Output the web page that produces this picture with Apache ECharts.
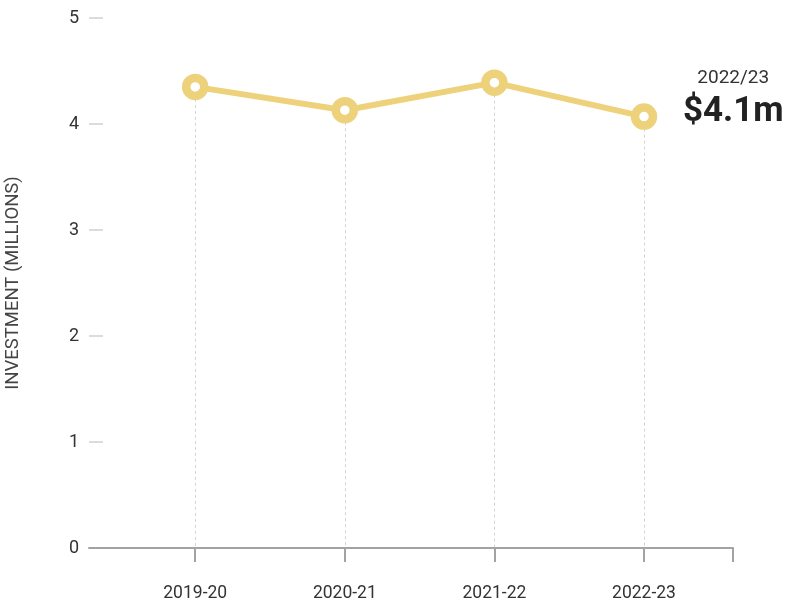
<!DOCTYPE html>
<html>
<head>
<meta charset="utf-8">
<script src="https://cdn.jsdelivr.net/npm/echarts@6/dist/echarts.min.js"></script>
<style>
  html, body { margin: 0; padding: 0; background: #fff; }
  #chart { width: 787px; height: 607px; }
</style>
</head>
<body>
<div id="chart"></div>
<script>
// Annual investment, in millions of dollars
const years = ['2019-20', '2020-21', '2021-22', '2022-23'];
const investment = [4.35, 4.13, 4.39, 4.07];
const yTicks = [0, 1, 2, 3, 4, 5];
const highlightYear = '2022/23';

const FONT = 'Roboto, "Noto Sans", sans-serif';
const GOLD = '#EDD27B';
const lastIdx = investment.length - 1;

const points = investment.map((v, i) => [i, v]);

const chart = echarts.init(document.getElementById('chart'), null, { renderer: 'canvas' });

chart.setOption({
  animation: false,
  grid: { left: 89, right: 54, top: 18, bottom: 59, containLabel: false, outerBoundsMode: 'none' },
  xAxis: {
    type: 'value',
    z: 5,
    min: -0.71,
    max: 3.595,
    axisLine: { show: true, onZero: false, lineStyle: { color: '#a3a3a3', width: 2 } },
    axisTick: {
      show: true,
      length: 14,
      customValues: years.map((_, i) => i).concat([3.595]),
      lineStyle: { color: '#a3a3a3', width: 2 }
    },
    axisLabel: {
      customValues: years.map((_, i) => i),
      formatter: v => years[Math.round(v)] || '',
      margin: 37,
      fontFamily: FONT,
      fontSize: 17.5,
      color: '#333'
    },
    splitLine: { show: false }
  },
  yAxis: {
    type: 'value',
    z: 1,
    min: yTicks[0],
    max: yTicks[yTicks.length - 1],
    interval: 1,
    name: 'INVESTMENT (MILLIONS)',
    nameLocation: 'middle',
    nameGap: 66,
    nameTextStyle: { fontFamily: FONT, fontSize: 18.5, color: '#444' },
    axisLine: { show: false, onZero: false },
    axisTick: {
      show: true,
      inside: true,
      length: 14,
      lineStyle: { color: '#cfcfcf', width: 1.5 }
    },
    axisLabel: {
      margin: 10,
      fontFamily: FONT,
      fontSize: 18,
      color: '#333'
    },
    splitLine: { show: false }
  },
  series: [
    {
      type: 'line',
      data: points,
      z: 3,
      lineStyle: { color: GOLD, width: 6 },
      symbol: 'circle',
      symbolSize: 18,
      itemStyle: { color: '#ffffff', borderColor: GOLD, borderWidth: 8.5 },
      label: {
        show: true,
        formatter: p => p.dataIndex === lastIdx
          ? '{yr|' + highlightYear + '}\n{val|$' + p.value[1].toFixed(1) + 'm}'
          : '',
        position: 'right',
        align: 'center',
        offset: [71, -19],
        rich: {
          yr: { fontFamily: FONT, fontSize: 19, color: '#333', lineHeight: 30, align: 'center' },
          val: { fontFamily: FONT, fontSize: 35, fontWeight: 'bold', color: '#222', lineHeight: 38, align: 'center' }
        }
      },
      markLine: {
        silent: true,
        symbol: 'none',
        label: { show: false },
        lineStyle: { color: '#d4d4d4', type: [3, 3], width: 1 },
        z: 1,
        data: points.map(p => [
          { coord: [p[0], p[1]] },
          { coord: [p[0], 0] }
        ])
      }
    }
  ]
});
</script>
</body>
</html>
